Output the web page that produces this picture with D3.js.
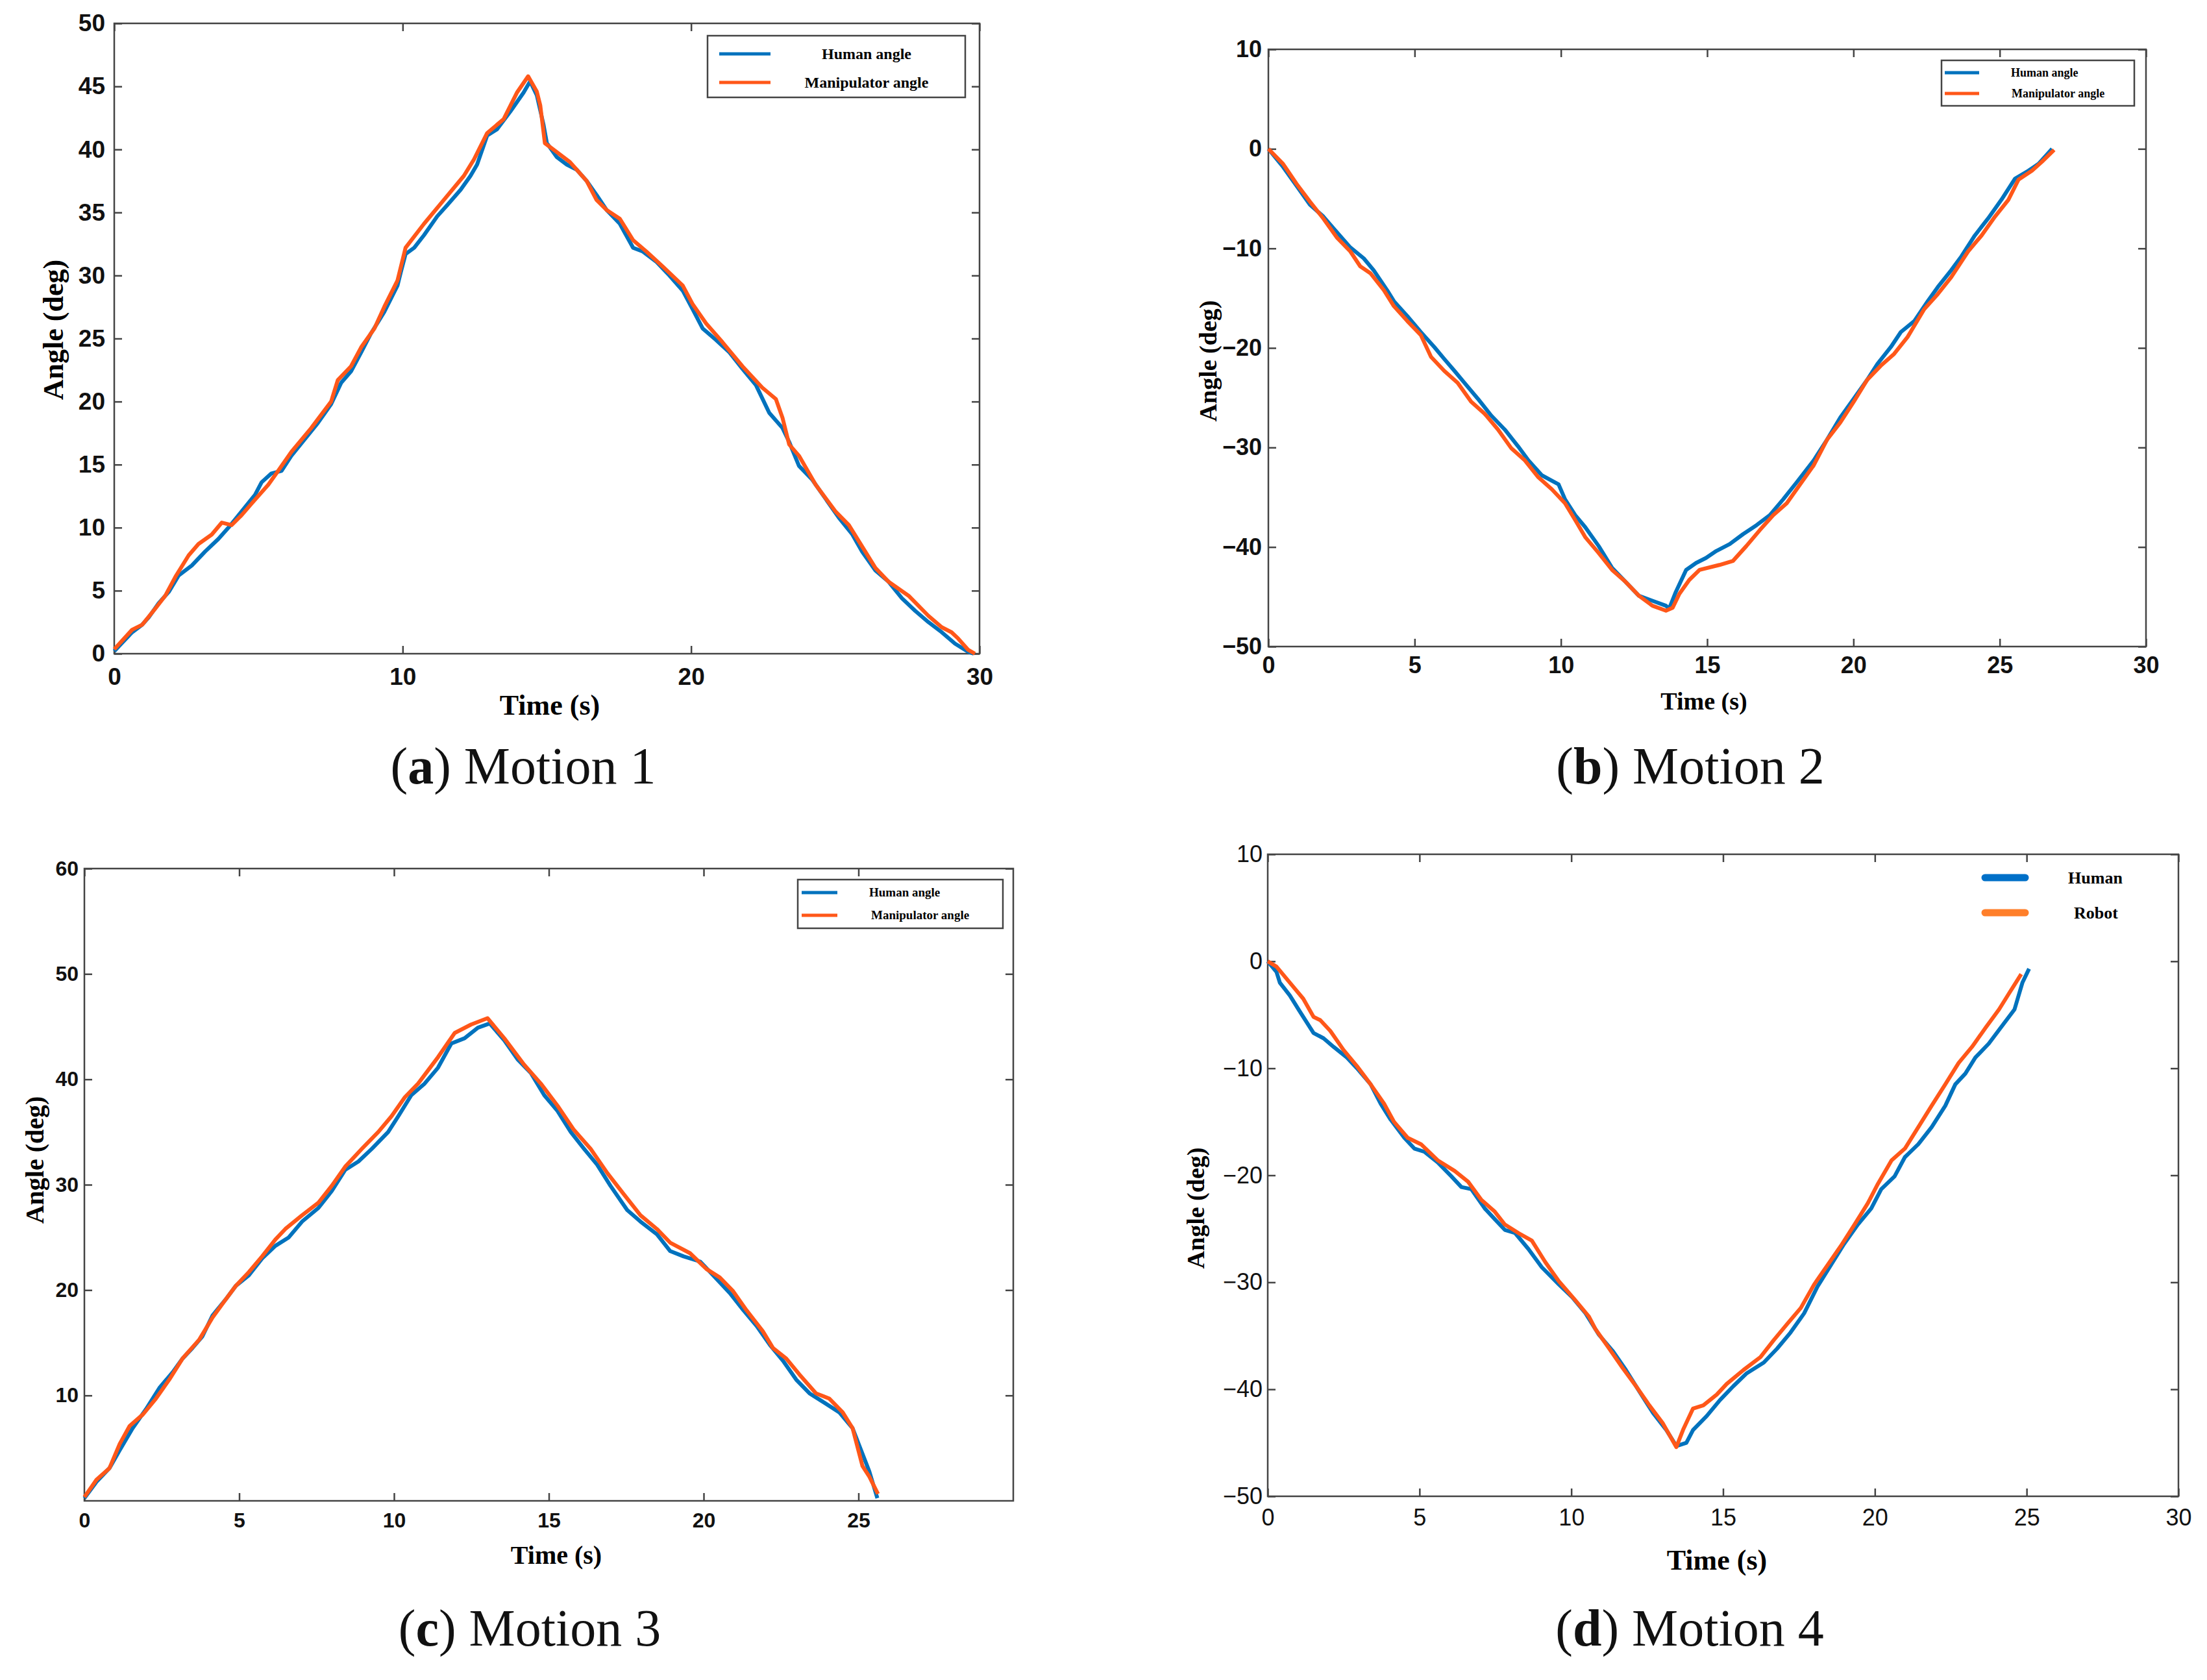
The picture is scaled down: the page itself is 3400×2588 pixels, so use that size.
<!DOCTYPE html>
<html>
<head>
<meta charset="utf-8">
<script src="https://cdn.jsdelivr.net/npm/d3@7"></script>
<style>
  body { margin: 0; background: #fff; }
  svg { display: block; }
</style>
</head>
<body>
<script>
// ---- data: [time (s), angle (deg)] ----
const m1Human = [[0,0.2],[0.62,1.7],[0.97,2.3],[1.2,2.9],[1.54,4.0],[1.89,4.9],[2.23,6.2],[2.69,7.0],[3.15,8.1],[3.61,9.1],[3.96,10.0],[4.42,11.3],[4.88,12.6],[5.11,13.6],[5.45,14.3],[5.8,14.5],[6.14,15.7],[6.6,17.0],[7.06,18.3],[7.52,19.8],[7.87,21.5],[8.21,22.4],[8.56,23.9],[8.9,25.4],[9.36,27.1],[9.82,29.2],[9.94,30.3],[10.1,31.7],[10.4,32.2],[10.74,33.2],[11.2,34.7],[11.55,35.6],[12.01,36.8],[12.35,37.9],[12.58,38.8],[12.93,41.1],[13.27,41.6],[13.73,43.0],[14.19,44.5],[14.42,45.4],[14.65,44.3],[14.88,42.0],[15.0,40.5],[15.34,39.4],[15.69,38.8],[16.03,38.4],[16.38,37.5],[16.72,36.4],[17.07,35.2],[17.53,34.1],[17.99,32.2],[18.33,31.9],[18.79,31.1],[19.25,30.0],[19.71,28.8],[20.06,27.3],[20.4,25.8],[20.86,24.9],[21.33,23.9],[21.78,22.6],[22.25,21.3],[22.71,19.1],[23.17,17.9],[23.4,16.8],[23.74,14.9],[24.2,13.8],[24.66,12.3],[25.12,10.8],[25.58,9.5],[25.93,8.1],[26.39,6.6],[26.85,5.7],[27.31,4.4],[27.77,3.4],[28.23,2.5],[28.69,1.7],[29.15,0.8],[29.61,0.15],[29.8,0]];
const m1Robot = [[0,0.35],[0.62,1.9],[0.97,2.3],[1.43,3.6],[1.77,4.6],[2.12,6.1],[2.58,7.8],[2.92,8.7],[3.38,9.45],[3.73,10.4],[4.07,10.2],[4.42,11.0],[4.76,11.9],[4.99,12.5],[5.34,13.4],[5.68,14.5],[6.14,16.0],[6.83,17.9],[7.52,20.0],[7.75,21.7],[8.21,22.8],[8.56,24.3],[9.02,25.8],[9.36,27.5],[9.82,29.6],[10.1,32.2],[10.74,34.1],[11.43,36.0],[12.12,37.9],[12.47,39.2],[12.93,41.3],[13.5,42.4],[13.96,44.5],[14.35,45.8],[14.65,44.6],[14.77,43.5],[14.93,40.5],[15.34,39.8],[15.8,39.0],[16.38,37.5],[16.72,36.0],[17.07,35.2],[17.53,34.5],[17.99,32.8],[18.45,31.9],[19.02,30.7],[19.71,29.2],[20.06,27.7],[20.52,26.2],[21.09,24.7],[21.78,22.8],[22.47,21.1],[22.94,20.2],[23.17,18.7],[23.4,16.6],[23.74,15.7],[24.32,13.4],[25.0,11.3],[25.47,10.2],[25.93,8.5],[26.39,6.8],[26.85,5.7],[27.54,4.6],[28.23,3.0],[28.69,2.1],[29.03,1.7],[29.26,1.2],[29.61,0.3],[29.84,0]];

const m2Human = [[0,0],[0.5,-1.8],[0.96,-3.7],[1.42,-5.6],[1.88,-6.8],[2.23,-8.0],[2.8,-9.9],[3.26,-11.0],[3.6,-12.2],[4.06,-14.2],[4.29,-15.3],[4.75,-16.8],[5.21,-18.4],[5.67,-19.9],[6.01,-21.1],[6.36,-22.3],[6.7,-23.5],[7.16,-25.1],[7.62,-26.8],[8.08,-28.2],[8.54,-29.9],[8.89,-31.3],[9.35,-32.8],[9.92,-33.7],[10.14,-35.2],[10.49,-36.8],[10.83,-38.0],[11.29,-39.9],[11.75,-42.1],[12.21,-43.5],[12.67,-44.9],[13.13,-45.4],[13.59,-45.9],[13.7,-46.2],[13.93,-44.5],[14.28,-42.3],[14.62,-41.6],[14.96,-41.1],[15.31,-40.4],[15.77,-39.7],[16.23,-38.7],[16.69,-37.8],[17.14,-36.8],[17.6,-35.2],[18.06,-33.5],[18.64,-31.3],[19.1,-29.2],[19.55,-27.0],[20.01,-25.1],[20.47,-23.2],[20.82,-21.6],[21.28,-19.9],[21.62,-18.4],[22.08,-17.3],[22.54,-15.3],[22.88,-13.9],[23.34,-12.2],[23.69,-10.8],[24.15,-8.7],[24.6,-7.0],[25.06,-5.1],[25.52,-3.0],[25.98,-2.2],[26.33,-1.5],[26.79,0]];
const m2Robot = [[0,0],[0.5,-1.5],[0.96,-3.5],[1.42,-5.3],[1.88,-7.0],[2.34,-8.9],[2.8,-10.3],[3.14,-11.8],[3.49,-12.5],[3.95,-14.2],[4.29,-15.8],[4.75,-17.3],[5.21,-18.7],[5.56,-20.9],[6.01,-22.3],[6.47,-23.5],[6.93,-25.4],[7.39,-26.6],[7.85,-28.2],[8.31,-30.1],[8.77,-31.3],[9.23,-33.0],[9.69,-34.2],[10.14,-35.6],[10.49,-37.3],[10.83,-39.0],[11.29,-40.6],[11.75,-42.3],[12.21,-43.5],[12.67,-44.9],[13.13,-45.9],[13.59,-46.4],[13.82,-46.1],[14.05,-44.7],[14.39,-43.3],[14.74,-42.3],[15.42,-41.8],[15.88,-41.4],[16.34,-39.9],[16.8,-38.3],[17.26,-36.8],[17.72,-35.6],[18.18,-33.7],[18.64,-31.8],[19.1,-29.2],[19.55,-27.5],[20.01,-25.4],[20.47,-23.2],[20.93,-21.8],[21.39,-20.6],[21.85,-18.9],[22.42,-16.1],[22.88,-14.6],[23.34,-12.9],[23.92,-10.3],[24.38,-8.7],[24.84,-6.8],[25.3,-5.1],[25.64,-3.1],[26.1,-2.2],[26.44,-1.3],[26.86,-0.1]];

const m3Human = [[0,0.25],[0.39,1.8],[0.81,3.1],[1.14,4.8],[1.56,6.9],[1.99,8.7],[2.42,10.7],[2.85,12.2],[3.17,13.5],[3.49,14.5],[3.81,15.6],[4.14,17.6],[4.56,19.1],[4.89,20.4],[5.31,21.4],[5.74,23.0],[6.17,24.2],[6.6,25.0],[7.03,26.5],[7.56,27.8],[7.99,29.4],[8.42,31.4],[8.85,32.2],[9.28,33.4],[9.81,35.0],[10.14,36.5],[10.56,38.5],[10.99,39.6],[11.42,41.1],[11.85,43.4],[12.28,43.9],[12.71,44.9],[13.09,45.3],[13.56,43.7],[13.99,41.9],[14.42,40.6],[14.85,38.5],[15.28,37.0],[15.71,35.0],[16.14,33.4],[16.56,31.9],[16.99,29.9],[17.53,27.6],[17.96,26.5],[18.49,25.3],[18.92,23.7],[19.35,23.2],[19.89,22.7],[20.31,21.4],[20.85,19.7],[21.28,18.1],[21.71,16.6],[22.14,14.8],[22.56,13.3],[22.99,11.5],[23.42,10.2],[23.85,9.4],[24.38,8.4],[24.81,6.9],[25.02,5.3],[25.35,2.8],[25.61,0.25]];
const m3Robot = [[0,0.35],[0.39,2.0],[0.81,3.1],[1.14,5.4],[1.46,7.1],[1.89,8.2],[2.31,9.7],[2.74,11.5],[3.17,13.5],[3.71,15.3],[4.14,17.4],[4.56,19.1],[4.89,20.4],[5.31,21.7],[5.74,23.2],[6.17,24.8],[6.49,25.8],[7.03,27.1],[7.56,28.3],[7.99,29.9],[8.42,31.7],[8.96,33.4],[9.49,35.0],[9.92,36.5],[10.35,38.3],[10.78,39.6],[11.42,42.1],[11.96,44.4],[12.49,45.2],[13.02,45.8],[13.56,43.9],[14.2,41.4],[14.74,39.6],[15.28,37.5],[15.81,35.2],[16.35,33.4],[16.89,31.1],[17.42,29.1],[17.96,27.1],[18.49,25.8],[18.92,24.5],[19.56,23.5],[20.09,22.0],[20.52,21.2],[20.95,19.9],[21.38,18.1],[21.91,16.1],[22.24,14.5],[22.67,13.5],[23.09,12.0],[23.63,10.2],[24.06,9.7],[24.49,8.4],[24.81,6.9],[25.13,3.3],[25.35,2.3],[25.63,0.65]];

const m4Human = [[0,0],[0.29,-1.0],[0.4,-2.0],[0.73,-3.2],[1.06,-4.7],[1.51,-6.7],[1.84,-7.2],[2.17,-8.0],[2.61,-9.0],[2.94,-10.0],[3.39,-11.5],[3.72,-13.3],[4.05,-14.8],[4.5,-16.5],[4.83,-17.5],[5.16,-17.8],[5.6,-18.8],[6.05,-20.1],[6.38,-21.1],[6.71,-21.3],[7.15,-23.1],[7.48,-24.1],[7.81,-25.1],[8.15,-25.4],[8.59,-26.9],[9.03,-28.6],[9.59,-30.2],[10.03,-31.4],[10.47,-32.9],[10.91,-34.9],[11.36,-36.4],[11.8,-38.2],[12.24,-40.2],[12.69,-42.2],[13.13,-43.8],[13.46,-45.3],[13.79,-45.0],[14.01,-43.8],[14.46,-42.5],[14.9,-41.0],[15.34,-39.7],[15.78,-38.5],[16.34,-37.5],[16.78,-36.2],[17.22,-34.7],[17.67,-32.9],[18.11,-30.4],[18.55,-28.4],[18.99,-26.4],[19.44,-24.6],[19.88,-23.1],[20.21,-21.3],[20.65,-20.1],[20.99,-18.3],[21.43,-17.1],[21.87,-15.5],[22.32,-13.5],[22.65,-11.5],[22.98,-10.5],[23.31,-9.0],[23.75,-7.7],[24.2,-6.0],[24.6,-4.5],[24.86,-2.0],[25.08,-0.7]];
const m4Robot = [[0,0],[0.29,-0.5],[0.73,-2.0],[1.17,-3.5],[1.51,-5.2],[1.73,-5.5],[2.06,-6.5],[2.5,-8.3],[2.94,-9.8],[3.39,-11.5],[3.83,-13.3],[4.16,-15.0],[4.61,-16.5],[5.05,-17.1],[5.6,-18.6],[6.16,-19.6],[6.6,-20.6],[7.04,-22.3],[7.48,-23.4],[7.81,-24.6],[8.26,-25.4],[8.7,-26.1],[9.14,-28.1],[9.59,-29.9],[10.14,-31.7],[10.58,-33.2],[10.8,-34.4],[11.25,-36.2],[11.69,-38.0],[12.13,-39.7],[12.57,-41.5],[13.02,-43.2],[13.46,-45.4],[13.68,-43.8],[14.01,-41.8],[14.35,-41.5],[14.79,-40.5],[15.12,-39.5],[15.67,-38.2],[16.23,-37.0],[16.67,-35.4],[17.11,-33.9],[17.56,-32.4],[18.0,-30.2],[18.44,-28.4],[18.88,-26.6],[19.33,-24.6],[19.77,-22.6],[20.1,-20.8],[20.55,-18.6],[20.99,-17.5],[21.43,-15.5],[21.87,-13.5],[22.32,-11.5],[22.76,-9.5],[23.2,-8.0],[23.65,-6.2],[24.09,-4.5],[24.42,-3.0],[24.82,-1.2]];

// tick values
const xTicksA = [0, 10, 20, 30];
const yTicksA = [0, 5, 10, 15, 20, 25, 30, 35, 40, 45, 50];
const xTicks5 = [0, 5, 10, 15, 20, 25, 30];
const yTicksNeg = [-50, -40, -30, -20, -10, 0, 10];
const xTicksC = [0, 5, 10, 15, 20, 25];
const yTicksC = [10, 20, 30, 40, 50, 60];

const legendLong = ["Human angle", "Manipulator angle"];
const legendShort = ["Human", "Robot"];
const captions = [["a", "Motion 1"], ["b", "Motion 2"], ["c", "Motion 3"], ["d", "Motion 4"]];

const BLUE = "#0072BD", ORANGE = "#FF5719";

const W = 3400, H = 2588;
const svg = d3.select("body").append("svg").attr("width", W).attr("height", H);

function drawPanel(p) {
    const x = d3.scaleLinear().domain(p.xDom).range([p.left, p.right]);
    const y = d3.scaleLinear().domain(p.yDom).range([p.bottom, p.top]);
    const g = svg.append("g");
    const tick = 12;

    // mirrored ticks (top / right), no labels
    g.append("g").attr("transform", `translate(0,${p.top})`)
        .call(d3.axisTop(x).tickValues(p.xTicks).tickSize(-tick).tickFormat(""));
    g.append("g").attr("transform", `translate(${p.right},0)`)
        .call(d3.axisRight(y).tickValues(p.yTicks).tickSize(-tick).tickFormat(""));

    const xa = g.append("g").attr("transform", `translate(0,${p.bottom})`)
        .call(d3.axisBottom(x).tickValues(p.xTicks).tickSize(-tick).tickPadding(p.xPad));
    const ya = g.append("g").attr("transform", `translate(${p.left},0)`)
        .call(d3.axisLeft(y).tickValues(p.yTicks).tickSize(-tick).tickPadding(p.yPad));

    g.selectAll(".domain").remove();
    g.selectAll(".tick line").attr("stroke", "#444").attr("stroke-width", 2.5);
    [xa, ya].forEach(a => a.selectAll("text")
        .attr("font-family", p.tickFont)
        .attr("font-weight", p.tickWeight)
        .attr("font-size", p.tickSize)
        .attr("fill", "#111"));

    g.append("rect")
        .attr("x", p.left).attr("y", p.top)
        .attr("width", p.right - p.left).attr("height", p.bottom - p.top)
        .attr("fill", "none").attr("stroke", "#444").attr("stroke-width", 2.5);

    const line = d3.line().x(d => x(d[0])).y(d => y(d[1]));
    g.append("path").datum(p.human).attr("d", line)
        .attr("fill", "none").attr("stroke", BLUE).attr("stroke-width", 6)
        .attr("stroke-linejoin", "round");
    g.append("path").datum(p.robot).attr("d", line)
        .attr("fill", "none").attr("stroke", ORANGE).attr("stroke-width", 6)
        .attr("stroke-linejoin", "round");

    // axis titles
    g.append("text").attr("x", p.xTitle[0]).attr("y", p.xTitle[1])
        .attr("text-anchor", "middle")
        .attr("font-family", "Liberation Serif").attr("font-weight", "bold")
        .attr("font-size", p.xTitle[2]).text("Time (s)");
    g.append("text")
        .attr("transform", `translate(${p.yTitle[0]},${p.yTitle[1]}) rotate(-90)`)
        .attr("text-anchor", "middle").attr("dy", "0.35em")
        .attr("font-family", "Liberation Serif").attr("font-weight", "bold")
        .attr("font-size", p.yTitle[2]).text("Angle (deg)");

    // legend
    const L = p.legend;
    if (L.box) {
        g.append("rect").attr("x", L.box[0]).attr("y", L.box[1])
            .attr("width", L.box[2] - L.box[0]).attr("height", L.box[3] - L.box[1])
            .attr("fill", "#fff").attr("stroke", "#444").attr("stroke-width", 2.5);
    }
    L.labels.forEach((lab, i) => {
        g.append("line")
            .attr("x1", L.line[0]).attr("x2", L.line[1])
            .attr("y1", L.rows[i]).attr("y2", L.rows[i])
            .attr("stroke", L.colors[i]).attr("stroke-width", L.lw)
            .attr("stroke-linecap", L.cap);
        g.append("text").attr("x", L.textX[i]).attr("y", L.rows[i])
            .attr("dy", "0.33em").attr("text-anchor", L.anchor)
            .attr("font-family", "Liberation Serif").attr("font-weight", "bold")
            .attr("font-size", L.size).text(lab);
    });

    // caption
    const cap = g.append("text").attr("x", p.caption[0]).attr("y", p.caption[1])
        .attr("text-anchor", "middle")
        .attr("font-family", "Liberation Serif").attr("font-size", 80).attr("fill", "#111");
    cap.append("tspan").text("(");
    cap.append("tspan").attr("font-weight", "bold").text(p.cap[0]);
    cap.append("tspan").text(") " + p.cap[1]);
}

drawPanel({
    left: 176, right: 1509, top: 36, bottom: 1007,
    xDom: [0, 30], yDom: [0, 50], xTicks: xTicksA, yTicks: yTicksA,
    xPad: 22, yPad: 14, tickFont: "Liberation Sans", tickWeight: "bold", tickSize: 37,
    human: m1Human, robot: m1Robot,
    xTitle: [847, 1101, 44], yTitle: [82, 508, 44],
    legend: { box: [1090, 55, 1487, 150], line: [1108, 1187], rows: [83, 127],
        textX: [1335, 1335], anchor: "middle", size: 24, labels: legendLong,
        colors: [BLUE, ORANGE], lw: 5, cap: "butt" },
    caption: [806, 1207], cap: captions[0]
});

drawPanel({
    left: 1954, right: 3306, top: 76, bottom: 996,
    xDom: [0, 30], yDom: [-50, 10], xTicks: xTicks5, yTicks: yTicksNeg,
    xPad: 15, yPad: 10, tickFont: "Liberation Sans", tickWeight: "bold", tickSize: 36,
    human: m2Human, robot: m2Robot,
    xTitle: [2625, 1093, 38], yTitle: [1861, 556, 38],
    legend: { box: [2991, 93, 3288, 163], line: [2996, 3049], rows: [112, 144],
        textX: [3098, 3099], anchor: "start", size: 18, labels: legendLong,
        colors: [BLUE, ORANGE], lw: 5, cap: "butt" },
    caption: [2604, 1207], cap: captions[1]
});

drawPanel({
    left: 130, right: 1561, top: 1338, bottom: 2312,
    xDom: [0, 30], yDom: [0, 60], xTicks: xTicksC, yTicks: yTicksC,
    xPad: 18, yPad: 9, tickFont: "Liberation Sans", tickWeight: "bold", tickSize: 32,
    human: m3Human, robot: m3Robot,
    xTitle: [857, 2409, 40], yTitle: [53, 1787, 40],
    legend: { box: [1229, 1355, 1545, 1430], line: [1235, 1290], rows: [1375, 1410],
        textX: [1339, 1342], anchor: "start", size: 19, labels: legendLong,
        colors: [BLUE, ORANGE], lw: 5, cap: "butt" },
    caption: [816, 2535], cap: captions[2]
});

drawPanel({
    left: 1953, right: 3356, top: 1316, bottom: 2305,
    xDom: [0, 30], yDom: [-50, 10], xTicks: xTicks5, yTicks: yTicksNeg,
    xPad: 19, yPad: 8, tickFont: "Liberation Sans Narrow, Liberation Sans", tickWeight: "normal", tickSize: 36,
    human: m4Human, robot: m4Robot,
    xTitle: [2645, 2418, 44], yTitle: [1842, 1861, 38],
    legend: { box: null, line: [3058, 3120], rows: [1352, 1406],
        textX: [3228, 3229], anchor: "middle", size: 26, labels: legendShort,
        colors: ["#0070C8", "#FF7F2A"], lw: 11, cap: "round" },
    caption: [2603, 2535], cap: captions[3]
});
</script>
</body>
</html>
